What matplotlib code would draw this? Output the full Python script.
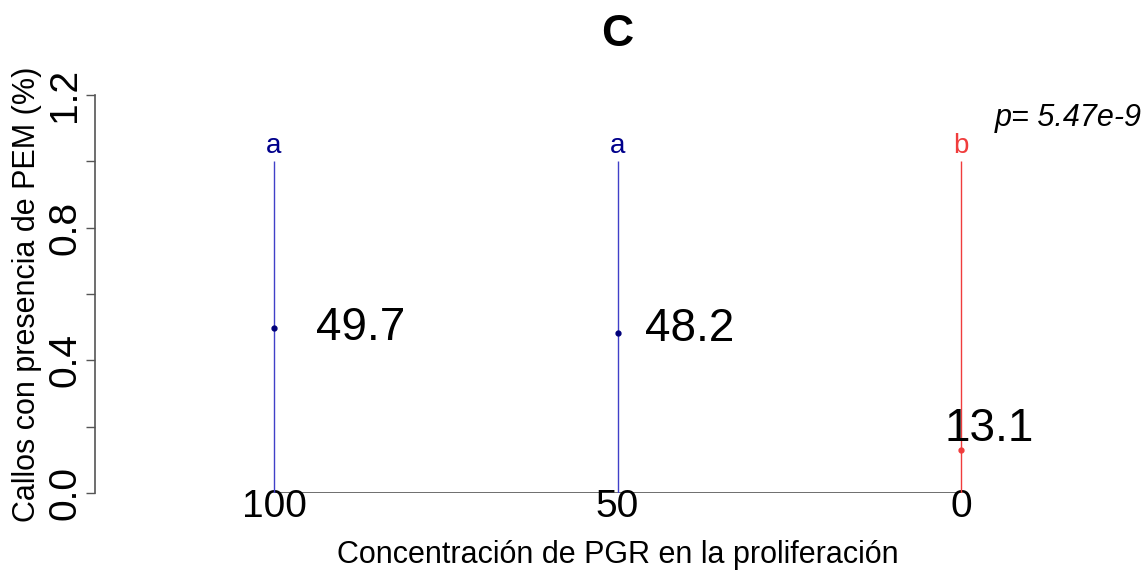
import numpy as np
import matplotlib
matplotlib.use("Agg")
import matplotlib.pyplot as plt

plt.rcParams['font.family'] = ['Liberation Sans', 'DejaVu Sans']

# datos
grupos = ['100', '50', '0']
medias = [0.497, 0.482, 0.131]
sup = [1.0, 1.0, 1.0]
letras = ['a', 'a', 'b']
p_txt = 'p= 5.47e-9'

col_linea = ['#4040c8', '#4040c8', '#f03c3c']
col_punto = ['#00007a', '#00007a', '#f03c3c']
col_letra = ['#00008b', '#00008b', '#f03c3c']
# desplazamiento de las etiquetas (pixeles)
dx_lab = [42, 27, 28]
dy_lab = [0, 4, 21]
ha_lab = ['left', 'left', 'center']

W, H = 1146, 571
fig = plt.figure(figsize=(W / 100, H / 100), dpi=100)
ax = fig.add_axes([95 / W, (H - 493) / H, (1140 - 95) / W, (493 - 95) / H])

x = np.arange(len(grupos))
ax.set_xlim(-0.521, len(grupos) - 1 + 0.521)
ax.set_ylim(0, 1.2)

ax.hlines(0, x[0], x[-1], color='#555555', lw=1.2, zorder=1)
for i in range(len(grupos)):
    ax.vlines(x[i], 0, sup[i], color=col_linea[i], lw=1.0, zorder=2)
    ax.plot(x[i], medias[i], 'o', color=col_punto[i], ms=3.5, zorder=3)
    ax.text(x[i], 1.045, letras[i], color=col_letra[i], fontsize=20,
            ha='center', va='center')
    ax.annotate(f'{medias[i] * 100:.1f}', (x[i], medias[i]),
                xytext=(dx_lab[i] * 0.72, dy_lab[i] * 0.72),
                textcoords='offset points', ha=ha_lab[i], va='center',
                fontsize=33, color='black')

for s in ['top', 'right', 'bottom']:
    ax.spines[s].set_visible(False)
ax.spines['left'].set_color('#555555')
ax.spines['left'].set_linewidth(1.2)

yt = [0, 0.2, 0.4, 0.6, 0.8, 1.0, 1.2]
ax.set_yticks(yt)
ax.set_yticklabels(['0.0', '', '0.4', '', '0.8', '', '1.2'], rotation=90,
                   va='center', fontsize=28)
ax.tick_params(axis='y', length=6.5, width=1.0, color='#555555', pad=2)

ax.set_xticks(x)
ax.set_xticklabels(grupos, fontsize=28)
ax.tick_params(axis='x', length=0, pad=-3)

ax.set_xlabel('Concentración de PGR en la proliferación', fontsize=22, labelpad=11)
ax.set_ylabel('Callos con presencia de PEM (%)', fontsize=22, labelpad=4)

fig.text(617 / W, 1 - 35 / H, 'C', fontsize=32, fontweight='bold',
         ha='center', va='center')
fig.text(1142 / W, 1 - 118 / H, p_txt, fontsize=22, style='italic',
         ha='right', va='center')

fig.savefig('out.png', dpi=100)
